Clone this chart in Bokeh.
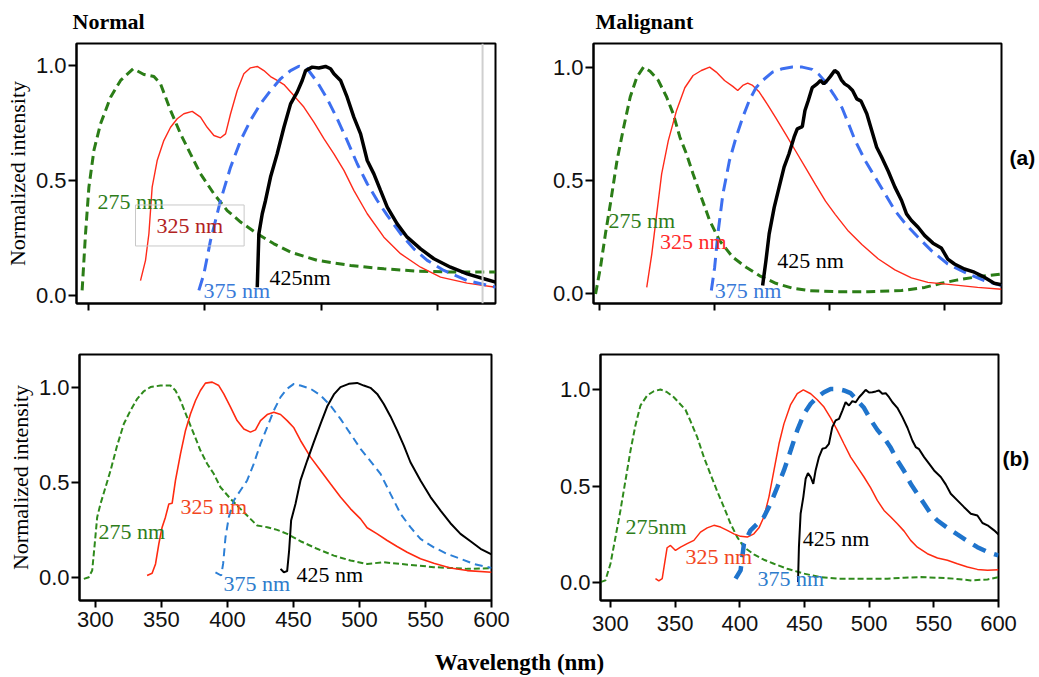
from bokeh.plotting import figure
from bokeh.layouts import column, row
from bokeh.models import (FixedTicker, Label, Range1d, PrintfTickFormatter,
                          CustomJSTickFormatter, Span, LinearAxis)
from bokeh.embed import file_html
from bokeh.resources import INLINE

# ---------------- data (wavelength nm, normalized intensity) ----------------
# (a) Normal
tl_x_275 = [294.8, 297.7, 300.6, 304.9, 310.6, 319.2, 327.8, 338.6, 347.8, 356.4, 362.1, 370.7, 379.3, 387.8,
            396.4, 407.9, 419.3, 430.8, 445.1, 459.4, 473.7, 496.6, 525.2, 553.8, 582.4, 611.0, 649.7]
tl_y_275 = [0.022, 0.269, 0.472, 0.632, 0.748, 0.864, 0.937, 0.988, 0.963, 0.954, 0.922, 0.806, 0.704, 0.617,
            0.530, 0.443, 0.370, 0.320, 0.269, 0.225, 0.189, 0.153, 0.131, 0.116, 0.106, 0.102, 0.102]
tl_x_325 = [344.9, 349.2, 352.1, 354.9, 359.2, 364.9, 370.7, 376.4, 382.1, 389.3, 396.4, 402.1, 407.9, 413.6,
            417.9, 422.2, 427.9, 433.6, 439.3, 445.1, 450.8, 456.5, 462.2, 468.0, 476.5, 485.1, 493.7, 502.3,
            510.9, 519.5, 528.0, 539.5, 553.8, 568.1, 585.3, 602.4, 625.3, 649.7]
tl_y_325 = [0.065, 0.153, 0.269, 0.472, 0.588, 0.675, 0.733, 0.770, 0.792, 0.802, 0.777, 0.733, 0.697, 0.687,
            0.704, 0.792, 0.893, 0.966, 0.992, 0.998, 0.980, 0.954, 0.937, 0.919, 0.871, 0.821, 0.755, 0.683,
            0.617, 0.545, 0.458, 0.356, 0.254, 0.182, 0.123, 0.080, 0.054, 0.036]
tl_x_375 = [395.0, 399.3, 405.0, 413.6, 422.2, 430.8, 439.3, 447.9, 456.5, 465.1, 473.7, 480.8, 488.0, 496.6,
            505.2, 513.7, 522.3, 530.9, 539.5, 548.1, 556.7, 568.1, 579.5, 591.0, 605.3, 625.3, 649.7]
tl_y_375 = [0.022, 0.094, 0.240, 0.414, 0.559, 0.675, 0.763, 0.835, 0.893, 0.944, 0.980, 0.999, 0.988, 0.930,
            0.857, 0.770, 0.675, 0.574, 0.487, 0.414, 0.349, 0.269, 0.203, 0.153, 0.109, 0.065, 0.036]
tl_x_425 = [445.1, 446.5, 449.4, 452.2, 456.5, 462.2, 468.0, 473.7, 479.4, 483.7, 486.6, 492.3, 498.0, 503.7,
            508.0, 510.9, 516.6, 522.3, 528.0, 533.8, 539.5, 545.2, 550.9, 556.7, 565.2, 573.8, 585.3, 596.7,
            611.0, 625.3, 639.6, 649.7]
tl_y_425 = [0.036, 0.269, 0.356, 0.414, 0.516, 0.617, 0.733, 0.835, 0.886, 0.937, 0.980, 0.995, 0.991, 0.998,
            0.988, 0.966, 0.937, 0.864, 0.777, 0.704, 0.588, 0.530, 0.458, 0.385, 0.312, 0.254, 0.203, 0.160,
            0.123, 0.094, 0.073, 0.058]

# (a) Malignant
tr_x_275 = [296.3, 300.6, 304.9, 309.2, 315.0, 320.8, 326.5, 332.3, 338.1, 343.8, 351.0, 358.2, 364.0, 369.8,
            375.5, 381.3, 388.5, 395.7, 404.4, 415.9, 427.5, 439.0, 453.4, 467.8, 482.2, 505.3, 534.1, 563.0,
            583.2, 597.6, 612.0, 629.3, 650.1]
tr_y_275 = [0.000, 0.118, 0.265, 0.397, 0.588, 0.735, 0.868, 0.956, 1.000, 0.982, 0.941, 0.868, 0.794, 0.691,
            0.618, 0.529, 0.426, 0.324, 0.235, 0.162, 0.118, 0.081, 0.047, 0.026, 0.015, 0.010, 0.010, 0.015,
            0.029, 0.047, 0.062, 0.076, 0.088]
tr_x_325 = [340.9, 345.3, 349.6, 353.9, 359.7, 366.9, 374.1, 381.3, 388.5, 395.7, 401.5, 408.7, 415.9, 420.2,
            424.6, 428.9, 433.2, 439.0, 446.2, 453.4, 462.1, 470.8, 479.4, 488.0, 496.7, 505.3, 516.8, 528.4,
            542.8, 557.2, 571.6, 586.0, 606.2, 629.3, 650.1]
tr_y_325 = [0.029, 0.176, 0.353, 0.529, 0.676, 0.809, 0.909, 0.963, 0.985, 1.000, 0.978, 0.941, 0.915, 0.897,
            0.919, 0.929, 0.919, 0.890, 0.835, 0.776, 0.703, 0.629, 0.556, 0.482, 0.409, 0.350, 0.276, 0.218,
            0.154, 0.106, 0.071, 0.051, 0.041, 0.029, 0.021]
tr_x_375 = [397.2, 400.1, 402.9, 407.3, 413.0, 418.8, 424.6, 430.3, 436.1, 441.9, 450.5, 459.2, 467.8, 476.5,
            485.1, 490.9, 496.7, 503.9, 511.1, 516.8, 522.6, 531.3, 539.9, 548.6, 557.2, 565.9, 577.4, 589.0,
            603.3, 617.8, 635.1, 650.1]
tr_y_375 = [0.015, 0.118, 0.265, 0.441, 0.588, 0.691, 0.779, 0.853, 0.909, 0.941, 0.978, 0.993, 1.000, 1.000,
            0.990, 0.968, 0.934, 0.879, 0.821, 0.750, 0.676, 0.588, 0.515, 0.441, 0.368, 0.312, 0.250, 0.191,
            0.132, 0.096, 0.059, 0.037]
tr_x_425 = [441.9, 444.8, 447.6, 452.0, 456.3, 460.6, 464.9, 469.3, 472.1, 476.5, 478.8, 481.7, 485.1, 489.4,
            492.3, 495.2, 498.1, 501.0, 504.7, 507.6, 510.5, 513.4, 516.8, 520.3, 524.0, 527.7, 532.7, 537.0,
            541.3, 545.7, 551.4, 557.2, 563.0, 567.3, 571.6, 577.4, 583.2, 590.4, 597.6, 603.3, 609.1, 617.8,
            626.4, 635.1, 643.7, 650.1]
tr_y_425 = [0.037, 0.147, 0.265, 0.382, 0.471, 0.559, 0.618, 0.691, 0.728, 0.738, 0.809, 0.853, 0.909, 0.926,
            0.941, 0.926, 0.941, 0.959, 0.985, 0.974, 0.944, 0.926, 0.915, 0.897, 0.860, 0.850, 0.794, 0.721,
            0.647, 0.603, 0.541, 0.471, 0.412, 0.353, 0.324, 0.294, 0.257, 0.224, 0.203, 0.154, 0.132, 0.110,
            0.096, 0.074, 0.047, 0.041]

# (b) Normal
bl_x_275 = [291.2, 294.9, 297.5, 299.2, 301.3, 303.8, 307.6, 311.4, 316.4, 321.5, 326.5, 331.6, 336.6, 341.7,
            349.2, 356.8, 360.6, 364.4, 369.4, 374.5, 379.5, 384.6, 389.6, 394.7, 402.3, 409.8, 417.4, 422.5,
            430.1, 437.6, 445.2, 455.3, 467.9, 480.6, 493.2, 505.8, 518.4, 531.1, 543.7, 556.3, 568.9, 581.6, 600.0]
bl_y_275 = [-0.009, 0.000, 0.035, 0.158, 0.317, 0.387, 0.475, 0.563, 0.695, 0.810, 0.880, 0.942, 0.982, 1.004,
            1.012, 1.012, 0.986, 0.933, 0.845, 0.757, 0.669, 0.599, 0.546, 0.475, 0.414, 0.361, 0.308, 0.273,
            0.264, 0.250, 0.229, 0.190, 0.150, 0.114, 0.088, 0.070, 0.079, 0.070, 0.062, 0.053, 0.049, 0.044, 0.048]
bl_x_325 = [339.1, 342.9, 345.5, 348.0, 350.5, 353.0, 355.6, 358.1, 360.6, 364.4, 368.2, 372.0, 375.8, 379.5,
            383.3, 388.4, 393.4, 397.2, 402.3, 407.3, 412.4, 417.4, 421.2, 425.0, 430.1, 435.1, 440.2, 445.2,
            450.3, 455.3, 462.9, 470.5, 478.0, 485.6, 493.2, 500.8, 505.8, 513.4, 521.0, 528.5, 536.1, 546.2,
            556.3, 568.9, 581.6, 600.0]
bl_y_325 = [0.009, 0.021, 0.070, 0.176, 0.264, 0.317, 0.387, 0.391, 0.511, 0.651, 0.775, 0.863, 0.933, 0.986,
            1.025, 1.030, 1.012, 0.968, 0.898, 0.827, 0.783, 0.766, 0.778, 0.827, 0.859, 0.871, 0.859, 0.827,
            0.789, 0.722, 0.634, 0.563, 0.493, 0.423, 0.361, 0.308, 0.261, 0.229, 0.194, 0.162, 0.132, 0.097,
            0.074, 0.049, 0.035, 0.026]
bl_x_375 = [390.9, 395.2, 396.7, 398.5, 401.0, 404.8, 409.8, 414.9, 419.9, 425.0, 430.1, 435.1, 440.2, 445.2,
            450.3, 455.3, 462.9, 470.5, 478.0, 485.6, 493.2, 500.8, 508.3, 515.9, 523.5, 531.1, 538.6, 546.2,
            556.3, 566.4, 576.5, 586.6, 600.0]
bl_y_375 = [0.026, 0.009, 0.070, 0.211, 0.317, 0.405, 0.458, 0.511, 0.599, 0.704, 0.792, 0.880, 0.951, 0.995,
            1.021, 1.012, 0.995, 0.960, 0.907, 0.836, 0.757, 0.678, 0.613, 0.546, 0.440, 0.335, 0.264, 0.202,
            0.158, 0.123, 0.097, 0.070, 0.049]
bl_x_425 = [440.2, 442.7, 445.2, 446.7, 448.2, 451.5, 455.3, 460.4, 465.4, 470.5, 475.5, 480.6, 485.6, 491.9,
            498.2, 503.3, 508.3, 513.4, 518.4, 523.5, 528.5, 533.6, 538.6, 546.2, 553.8, 561.4, 568.9, 576.5,
            584.1, 591.7, 600.0]
bl_y_425 = [0.044, 0.026, 0.032, 0.141, 0.299, 0.387, 0.511, 0.616, 0.713, 0.810, 0.901, 0.965, 1.004, 1.021,
            1.026, 1.012, 1.000, 0.968, 0.915, 0.849, 0.775, 0.695, 0.607, 0.511, 0.423, 0.352, 0.285, 0.229,
            0.190, 0.150, 0.120]

# (b) Malignant
br_x_275 = [292.3, 296.1, 300.0, 303.9, 307.7, 311.6, 315.5, 319.3, 323.2, 328.4, 333.5, 338.7, 343.8, 349.0,
            354.2, 358.0, 361.9, 367.1, 372.2, 377.4, 382.5, 387.7, 392.9, 398.0, 403.2, 410.9, 418.6, 426.4,
            436.7, 449.6, 462.5, 475.4, 488.3, 501.2, 514.1, 527.0, 539.9, 552.8, 565.7, 578.6, 591.5, 600.0]
br_y_275 = [0.003, 0.012, 0.098, 0.236, 0.374, 0.529, 0.684, 0.814, 0.917, 0.969, 0.991, 1.000, 0.986, 0.960,
            0.922, 0.895, 0.836, 0.753, 0.650, 0.560, 0.474, 0.391, 0.305, 0.236, 0.184, 0.147, 0.119, 0.098,
            0.072, 0.047, 0.029, 0.021, 0.021, 0.021, 0.021, 0.026, 0.029, 0.026, 0.021, 0.012, 0.017, 0.029]
br_x_325 = [334.8, 337.4, 340.0, 341.8, 343.8, 346.4, 350.3, 354.2, 359.3, 364.5, 369.6, 374.8, 380.0, 385.1,
            390.3, 395.4, 400.6, 405.8, 410.9, 414.8, 418.6, 422.5, 426.4, 430.3, 434.1, 439.3, 444.4, 449.1,
            454.8, 459.9, 465.1, 470.2, 475.4, 480.5, 485.7, 490.9, 496.0, 501.2, 506.3, 511.5, 516.7, 521.8,
            527.0, 532.1, 537.3, 545.0, 552.8, 560.5, 568.2, 576.0, 583.7, 591.5, 600.0]
br_y_325 = [0.021, 0.009, 0.021, 0.098, 0.181, 0.193, 0.167, 0.184, 0.202, 0.219, 0.262, 0.284, 0.297, 0.288,
            0.271, 0.253, 0.240, 0.236, 0.253, 0.284, 0.340, 0.443, 0.581, 0.719, 0.822, 0.922, 0.978, 0.998,
            0.978, 0.947, 0.909, 0.853, 0.788, 0.719, 0.650, 0.598, 0.547, 0.491, 0.426, 0.374, 0.340, 0.305,
            0.267, 0.219, 0.184, 0.150, 0.128, 0.116, 0.098, 0.081, 0.069, 0.064, 0.067]
br_x_375 = [396.7, 400.6, 403.2, 408.3, 413.5, 418.6, 423.8, 429.0, 434.1, 439.3, 444.4, 449.6, 454.8, 459.9,
            465.1, 470.2, 475.4, 480.5, 485.7, 490.9, 496.0, 501.2, 506.3, 511.5, 516.7, 521.8, 527.0, 532.1,
            537.3, 542.5, 547.6, 552.8, 560.5, 568.2, 576.0, 583.7, 591.5, 600.0]
br_y_375 = [0.021, 0.064, 0.202, 0.271, 0.305, 0.340, 0.409, 0.495, 0.581, 0.684, 0.788, 0.874, 0.926, 0.960,
            0.986, 1.003, 1.003, 0.995, 0.981, 0.943, 0.905, 0.843, 0.791, 0.750, 0.698, 0.633, 0.578, 0.512,
            0.460, 0.409, 0.357, 0.322, 0.284, 0.250, 0.216, 0.184, 0.159, 0.141]
br_x_425 = [445.0, 445.7, 447.0, 449.1, 450.9, 452.7, 454.8, 456.8, 458.6, 461.2, 463.8, 466.4, 468.9, 471.5,
            474.1, 476.7, 479.3, 481.8, 484.4, 487.0, 489.6, 492.2, 494.7, 497.3, 499.9, 502.5, 505.1, 507.6,
            510.2, 512.8, 515.4, 518.0, 521.8, 525.7, 529.6, 533.4, 536.0, 538.6, 542.5, 546.3, 550.2, 555.4,
            559.2, 563.1, 568.2, 573.4, 578.6, 583.7, 587.6, 591.5, 596.6, 600.0]
br_y_425 = [0.003, 0.184, 0.357, 0.443, 0.538, 0.567, 0.547, 0.512, 0.581, 0.650, 0.693, 0.698, 0.719, 0.805,
            0.840, 0.848, 0.891, 0.934, 0.917, 0.940, 0.934, 0.960, 0.978, 0.998, 0.984, 0.986, 0.990, 0.995,
            0.978, 0.981, 0.960, 0.934, 0.905, 0.857, 0.802, 0.736, 0.702, 0.691, 0.650, 0.616, 0.581, 0.547,
            0.509, 0.460, 0.426, 0.391, 0.357, 0.348, 0.309, 0.297, 0.271, 0.250]

top_x_ticks = [300, 400, 500, 600]
bottom_x_ticks = [300, 350, 400, 450, 500, 550, 600]
y_ticks = [0.0, 0.5, 1.0]
y_title = "Normalized intensity"
x_title = "Wavelength (nm)"
col_titles = ["Normal", "Malignant"]
row_titles = ["(a)", "(b)"]
row_title_y = [0.602, 0.643]
excitations = ["275 nm", "325 nm", "375 nm", "425 nm"]

SERIF = "Liberation Serif"
SANS = "Liberation Sans"
GREEN = "#2b7d17"
TXT_GREEN = "#2e7d1a"


def panel(w, h, bl, br, bt, bb, xr, yr, xticks, xlabels, ylabel, title=None, title_offset=0):
    p = figure(width=w, height=h, x_range=Range1d(*xr), y_range=Range1d(*yr),
               output_backend="svg", toolbar_location=None,
               min_border_left=bl, min_border_right=br, min_border_top=bt, min_border_bottom=bb)
    if title:
        p.title.text = title
        p.title.text_font = SERIF
        p.title.text_font_size = "22px"
        p.title.text_font_style = "bold"
        p.title.text_color = "black"
        p.title.align = "left"
        p.title.vertical_align = "top"
        p.title.offset = title_offset
        p.title.standoff = 16
    p.grid.visible = False
    p.outline_line_color = "black"
    p.outline_line_width = 2
    p.border_fill_color = "white"
    xa, ya = p.xaxis[0], p.yaxis[0]
    xa.ticker = FixedTicker(ticks=xticks)
    ya.ticker = FixedTicker(ticks=y_ticks)
    ya.formatter = PrintfTickFormatter(format="%.1f")
    if not xlabels:
        xa.formatter = CustomJSTickFormatter(code="return ''")
    for a in (xa, ya):
        a.axis_line_color = "black"
        a.axis_line_width = 2
        a.major_tick_line_color = "black"
        a.major_tick_line_width = 2
        a.major_tick_in = 0
        a.minor_tick_line_color = None
        a.major_label_text_font = SANS
        a.major_label_text_font_size = "22px"
        a.major_label_text_color = "#111111"
    xa.major_tick_out = 7
    xa.major_label_standoff = 4
    ya.major_tick_out = 8
    ya.major_label_standoff = 2
    if ylabel:
        ya.axis_label = ylabel
        ya.axis_label_text_font = SERIF
        ya.axis_label_text_font_size = "22px"
        ya.axis_label_text_font_style = "normal"
        ya.axis_label_text_color = "black"
        ya.axis_label_standoff = 3
    return p


def row_tag(p, text, y, standoff):
    """Bold row tag '(a)'/'(b)' written just right of the panel frame."""
    ax = LinearAxis(ticker=FixedTicker(ticks=[y]),
                    formatter=CustomJSTickFormatter(code="return %r" % text),
                    major_label_text_font=SANS, major_label_text_font_style="bold",
                    major_label_text_font_size="21px", major_label_text_color="black",
                    major_label_standoff=standoff, major_tick_out=0, major_tick_in=0,
                    major_tick_line_color=None, minor_tick_line_color=None,
                    axis_line_color=None)
    p.add_layout(ax, "right")


def note(p, x, y, text, color, size="22px", font=SERIF, style="normal",
         baseline="middle", align="left", **kw):
    p.add_layout(Label(x=x, y=y, text=text, text_color=color, text_font=font,
                       text_font_size=size, text_font_style=style,
                       text_baseline=baseline, text_align=align, **kw))


# ---------------- top-left: (a) Normal ----------------
tl = panel(519, 328, 76, 24, 43, 25, (289.96, 649.6), (-0.035, 1.098), top_x_ticks, False, y_title,
           title=col_titles[0], title_offset=-4)
tl.add_layout(Span(location=638.5, dimension="height", line_color="#cfcfcf", line_width=2))
tl.line(tl_x_275, tl_y_275, line_color=GREEN, line_width=3, line_dash="9 5")
tl.line(tl_x_325, tl_y_325, line_color="#ff2a1a", line_width=1.4)
tl.line(tl_x_375, tl_y_375, line_color="#3d6ff0", line_width=3, line_dash="13 7")
tl.line(tl_x_425, tl_y_425, line_color="black", line_width=3.5)
note(tl, 308.0, 0.41, excitations[0], TXT_GREEN)
note(tl, 340.6, 0.305, excitations[1], "#b22222", border_line_color="#c8c8c8",
     border_line_width=1, padding=(21, 8))
note(tl, 399.0, 0.022, excitations[2], "#3a7ad8")
note(tl, 455.6, 0.078, excitations[3].replace(" ", ""), "black")

# ---------------- top-right: (a) Malignant ----------------
tr = panel(519, 328, 74, 34, 43, 25, (294.5, 650.1), (-0.042, 1.104), top_x_ticks, False, None,
           title=col_titles[1], title_offset=2)
tr.line(tr_x_275, tr_y_275, line_color=GREEN, line_width=3, line_dash="9 5")
tr.line(tr_x_325, tr_y_325, line_color="#ff2a1a", line_width=1.4)
tr.line(tr_x_375, tr_y_375, line_color="#3d6ff0", line_width=3, line_dash="13 7")
tr.line(tr_x_425, tr_y_425, line_color="black", line_width=3.5)
note(tr, 307.5, 0.324, excitations[0], TXT_GREEN)
note(tr, 352.5, 0.231, excitations[1], "#ff2a2a")
note(tr, 400.1, 0.015, excitations[2], "#3a7ad8")
note(tr, 454.6, 0.148, excitations[3], "black")
row_tag(tr, row_titles[0], row_title_y[0], 8)

# ---------------- bottom-left: (b) Normal ----------------
bl = panel(519, 317, 79, 28, 26, 45, (287.9, 600.0), (-0.123, 1.176), bottom_x_ticks, True, y_title)
bl.line(bl_x_275, bl_y_275, line_color="#2f8a1c", line_width=2, line_dash="6 3")
bl.line(bl_x_325, bl_y_325, line_color="#ff2a10", line_width=1.6)
bl.line(bl_x_375, bl_y_375, line_color="#2c7fd6", line_width=2, line_dash="8 5")
bl.line(bl_x_425, bl_y_425, line_color="black", line_width=2)
note(bl, 302.3, 0.241, excitations[0], TXT_GREEN)
note(bl, 364.4, 0.373, excitations[1], "#f2461e")
note(bl, 397.0, -0.033, excitations[2], "#2e7ccc")
note(bl, 452.3, 0.014, excitations[3], "black")

# ---------------- bottom-right: (b) Malignant ----------------
br = panel(519, 317, 81, 40, 26, 45, (292.3, 600.0), (-0.092, 1.181), bottom_x_ticks, True, None)
br.xaxis[0].major_label_standoff = 8
br.line(br_x_275, br_y_275, line_color="#2f8a1c", line_width=2, line_dash="6 3")
br.line(br_x_325, br_y_325, line_color="#ff2a10", line_width=1.5)
br.line(br_x_375, br_y_375, line_color="#1f74cc", line_width=4.5, line_dash="14 9")
br.line(br_x_425, br_y_425, line_color="black", line_width=2)
note(br, 311.6, 0.291, excitations[0].replace(" ", ""), TXT_GREEN)
note(br, 358.0, 0.136, excitations[1], "#f2461e")
note(br, 413.7, 0.022, excitations[2], "#2e7ccc")
note(br, 448.6, 0.229, excitations[3], "black")
row_tag(br, row_titles[1], row_title_y[1], 4)

# ---------------- shared x-axis title ----------------
xt = figure(width=1038, height=31, x_range=Range1d(0, 1038), y_range=Range1d(0, 31),
            x_axis_type=None, y_axis_type=None, output_backend="svg",
            toolbar_location=None, min_border=0)
xt.grid.visible = False
xt.outline_line_color = None
note(xt, 519, 14, x_title, "black", size="23px", style="bold", align="center")

layout = column(row(tl, tr), row(bl, br), xt)
open("out.html", "w").write(file_html(layout, INLINE))
